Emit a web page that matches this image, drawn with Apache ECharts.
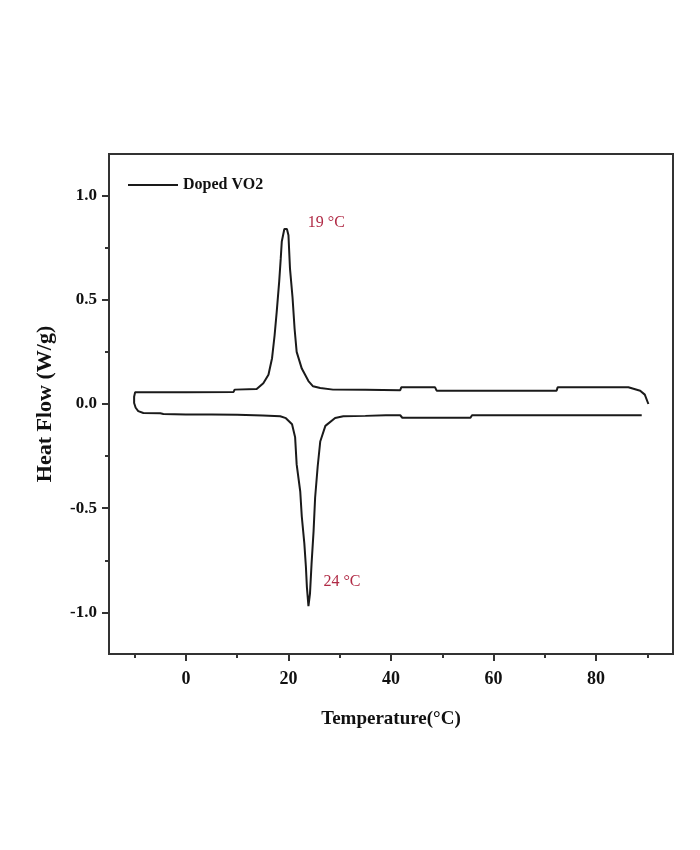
<!DOCTYPE html>
<html><head><meta charset="utf-8">
<script src="https://cdn.jsdelivr.net/npm/echarts@6/dist/echarts.min.js"></script>
<style>html,body{margin:0;padding:0;background:#fff}#c{width:700px;height:850px}</style>
</head><body><div id="c"></div>
<script>
// Cooling branch (from high T down to low T, ending with the left curl)
const coolingTemp = [88.9, 80, 70, 60, 55.8, 55.5, 50, 44, 42.2, 41.8, 39, 35, 30.7, 29.1, 27.2, 26.2, 25.7, 25.2, 24.9, 24.5, 24.2, 23.9, 23.6, 23.4, 23.1, 22.6, 22.3, 21.6, 21.3, 20.7, 19.5, 18.4, 15, 10, 5, 0, -4.4, -5, -8.3, -9.3, -9.8, -10.1, -10.1];
const coolingFlow = [-0.054, -0.054, -0.054, -0.054, -0.054, -0.066, -0.066, -0.066, -0.066, -0.054, -0.054, -0.057, -0.059, -0.067, -0.105, -0.18, -0.30, -0.45, -0.61, -0.77, -0.91, -0.97, -0.88, -0.78, -0.67, -0.54, -0.42, -0.29, -0.16, -0.097, -0.068, -0.059, -0.055, -0.052, -0.05, -0.05, -0.048, -0.044, -0.043, -0.034, -0.018, 0.005, 0.035];
// Heating branch (from low T up to high T)
const heatingTemp = [-9.9, 0, 9.3, 9.5, 13.8, 15.1, 16.1, 16.8, 17.3, 17.7, 18.2, 18.5, 18.7, 19.2, 19.7, 20.0, 20.3, 20.8, 21.2, 21.6, 22.6, 23.9, 24.8, 26.2, 28.7, 35, 41.8, 42, 48.6, 48.9, 60, 72.3, 72.5, 86.3, 88.6, 89.5, 90.2];
const heatingFlow = [0.057, 0.057, 0.058, 0.069, 0.072, 0.10, 0.14, 0.22, 0.33, 0.44, 0.59, 0.70, 0.78, 0.84, 0.84, 0.81, 0.65, 0.51, 0.36, 0.25, 0.17, 0.11, 0.085, 0.077, 0.069, 0.068, 0.066, 0.080, 0.080, 0.064, 0.064, 0.064, 0.080, 0.080, 0.064, 0.045, 0.0];

const xMajorTicks = [0, 20, 40, 60, 80];
const xMinorTicks = [-10, 10, 30, 50, 70, 90];
const yMajorTicks = [-1.0, -0.5, 0.0, 0.5, 1.0];
const yMinorTicks = [-0.75, -0.25, 0.25, 0.75];
const peakLabels = [{ t: 19.3, v: 0.84, text: '19 °C' }, { t: 23.9, v: -0.97, text: '24 °C' }];

const cycle = [];
coolingTemp.forEach((t, i) => cycle.push([t, coolingFlow[i]]));
heatingTemp.forEach((t, i) => cycle.push([t, heatingFlow[i]]));

const serif = '"Liberation Serif", "Times New Roman", serif';
const axisCol = '#333';
const chart = echarts.init(document.getElementById('c'));
chart.setOption({
  backgroundColor: '#fff',
  animation: false,
  grid: { left: 109, right: 27, top: 154, bottom: 196, show: true, borderColor: axisCol, borderWidth: 2 },
  legend: {
    left: 123, top: 172, icon: 'rect', itemWidth: 50, itemHeight: 2,
    textStyle: { fontFamily: serif, fontWeight: 'bold', fontSize: 16, color: '#111' },
    data: ['Doped VO2']
  },
  xAxis: [{
    type: 'value', min: -15, max: 95, position: 'bottom',
    name: 'Temperature(°C)', nameLocation: 'middle', nameGap: 56,
    nameTextStyle: { fontFamily: serif, fontWeight: 'bold', fontSize: 19, color: '#111' },
    splitLine: { show: false },
    axisLine: { onZero: false, lineStyle: { color: axisCol, width: 2 } },
    axisTick: { customValues: xMajorTicks, length: 7, lineStyle: { color: axisCol, width: 2 } },
    axisLabel: { customValues: xMajorTicks, margin: 16, fontFamily: serif, fontWeight: 'bold', fontSize: 18, color: '#111' }
  }, {
    type: 'value', min: -15, max: 95, position: 'bottom',
    splitLine: { show: false }, axisLine: { show: false, onZero: false }, axisLabel: { show: false },
    axisTick: { customValues: xMinorTicks, length: 4, lineStyle: { color: axisCol, width: 2 } }
  }],
  yAxis: [{
    type: 'value', min: -1.2, max: 1.2, position: 'left',
    name: 'Heat Flow (W/g)', nameLocation: 'middle', nameGap: 53, nameRotate: 90,
    nameTextStyle: { fontFamily: serif, fontWeight: 'bold', fontSize: 22, color: '#111' },
    splitLine: { show: false },
    axisLine: { onZero: false, lineStyle: { color: axisCol, width: 2 } },
    axisTick: { customValues: yMajorTicks, length: 7, lineStyle: { color: axisCol, width: 2 } },
    axisLabel: { customValues: yMajorTicks, margin: 12, formatter: v => v.toFixed(1), fontFamily: serif, fontWeight: 'bold', fontSize: 17, color: '#111' }
  }, {
    type: 'value', min: -1.2, max: 1.2, position: 'left',
    splitLine: { show: false }, axisLine: { show: false, onZero: false }, axisLabel: { show: false },
    axisTick: { customValues: yMinorTicks, length: 4, lineStyle: { color: axisCol, width: 2 } }
  }],
  series: [{
    name: 'Doped VO2', type: 'line', data: cycle, showSymbol: false, symbol: 'none',
    xAxisIndex: 0, yAxisIndex: 0,
    lineStyle: { color: '#1a1a1a', width: 2 }, itemStyle: { color: '#1a1a1a' },
    markPoint: {
      symbol: 'circle', symbolSize: 0,
      label: { show: true, fontFamily: serif, fontSize: 16, color: '#b02a45' },
      data: peakLabels.map((p, i) => ({
        coord: [p.t, p.v], value: p.text,
        label: { formatter: p.text, position: 'right', offset: i === 0 ? [18, -6] : [10, -24] }
      }))
    }
  }]
});
</script></body></html>
